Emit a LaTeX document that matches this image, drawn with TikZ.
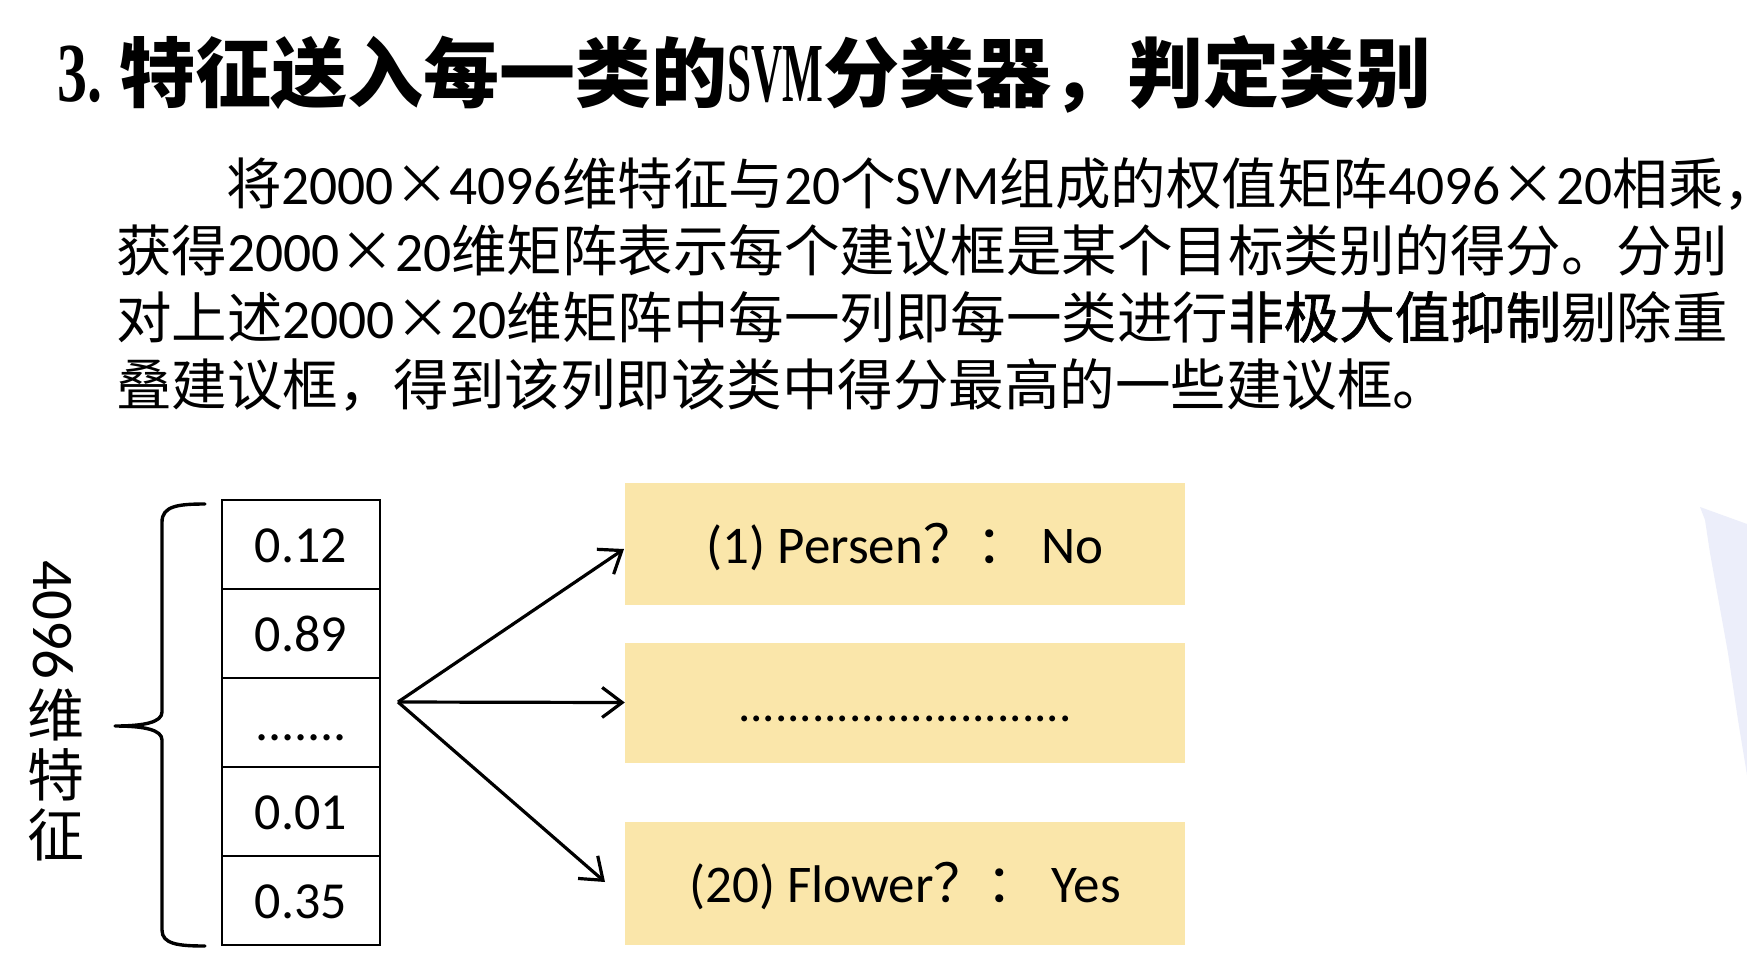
\documentclass[tikz,border=0pt]{standalone}
\usepackage{fontspec}
\usepackage{graphicx}
\setmainfont{Carlito}
\newfontfamily\cjk{Noto Sans CJK SC}
\newfontfamily\cjkfb[FakeBold=1.2]{Noto Sans CJK SC}
\newfontfamily\tserif{Liberation Serif}
\usetikzlibrary{arrows.meta}
\definecolor{boxyellow}{RGB}{250,230,170}
\definecolor{lav}{RGB}{236,238,250}
\newcommand\X{\makebox[1em]{\cjk ×}}
\tikzset{
  txt/.style={anchor=base west, inner sep=0pt, outer sep=0pt},
  cell/.style={draw=black, line width=2.8pt, minimum width=158pt, minimum height=89pt,
    inner sep=0pt, text height=35pt, text depth=0pt, font=\fontsize{52}{60}\selectfont},
  ybox/.style={fill=boxyellow, draw=none, minimum width=560pt, inner sep=0pt,
    text height=38pt, text depth=0pt, font=\fontsize{53}{60}\selectfont},
  arr/.style={line width=3.2pt, -{Straight Barb[length=20pt,width=30pt]}},
  brace/.style={line width=3.4pt, line cap=round, line join=round}
}
\begin{document}
\begin{tikzpicture}[x=1pt,y=-1pt]
\useasboundingbox (0,0) rectangle (1747,962);
\fill[white] (0,0) rectangle (1747,962);

% faint shape at right edge
\fill[lav] (1700,507) -- (1747,524) -- (1747,775) -- (1738,720) -- (1728,653) -- (1710,553) -- (1705,520) -- cycle;

% title
\node[txt] (title) at (57,101) {\fontsize{76}{80}\selectfont
  \scalebox{1}[1.4]{\fontsize{60}{60}\selectfont\tserif\bfseries 3.}\hspace{17pt}%
  {\cjk\bfseries 特征送入每一类的}%
  \scalebox{0.72}[1.4]{\fontsize{60}{60}\selectfont\tserif\bfseries SVM}%
  {\cjk\bfseries 分类器，判定类别}};

% paragraph
\node[txt] (p1) at (226,204) {\fontsize{55.5}{66}\selectfont
  {\cjk 将}2000\X 4096{\cjk 维特征与}20{\cjk 个}SVM{\cjk 组成的权值矩阵}4096\X 20{\cjk 相乘，}};
\node[txt] (p2) at (116,271) {\fontsize{55.5}{66}\selectfont
  {\cjk 获得}2000\X 20{\cjk 维矩阵表示每个建议框是某个目标类别的得分。分别}};
\node[txt] (p3) at (116,338) {\fontsize{55.5}{66}\selectfont
  {\cjk 对上述}2000\X 20{\cjk 维矩阵中每一列即每一类进行}{\cjkfb 非极大值抑制}{\cjk 剔除重}};
\node[txt] (p4) at (116,405) {\fontsize{55.5}{66}\selectfont
  {\cjk 叠建议框，得到该列即该类中得分最高的一些建议框。}};

% vertical label
\node[rotate=-90, inner sep=0pt, font=\fontsize{59}{62}\selectfont] (dimnum) at (53,620) {4096};
\node[inner sep=0pt, align=center, font=\fontsize{57}{60}\selectfont] (dimtxt) at (56,775) {{\cjk 维}\\{\cjk 特}\\{\cjk 征}};

% brace
\draw[brace] (205,504) .. controls (178,504) and (162,506) .. (162,522)
  -- (162,712) .. controls (162,722) and (145,726) .. (115,726)
  .. controls (145,726) and (162,730) .. (162,740)
  -- (162,930) .. controls (162,944) and (178,946) .. (205,946);

% feature cells
\node[cell] (c1) at (301,544.5) {0.12};
\node[cell] (c2) at (301,633.5) {0.89};
\node[cell] (c3) at (301,722.5) {.......};
\node[cell] (c4) at (301,811.5) {0.01};
\node[cell] (c5) at (301,900.5) {0.35};

% yellow boxes
\node[ybox, minimum height=122pt] (b1) at (905,544) {(1) Persen{\cjk ？：} No};
\node[ybox, minimum height=120pt] (b2) at (905,702.5) {\fontsize{49}{60}\selectfont ...........................};
\node[ybox, minimum height=123pt] (b3) at (905,883.5) {(20) Flower{\cjk ？：} Yes};

% arrows
\coordinate (src) at (398,702);
\coordinate (t1) at (624,549);
\coordinate (t3) at (605,882);
\draw[arr] (src) -- (t1);
\draw[arr] (src) -- (b2.west);
\draw[arr] (src) -- (t3);
\end{tikzpicture}
\end{document}
